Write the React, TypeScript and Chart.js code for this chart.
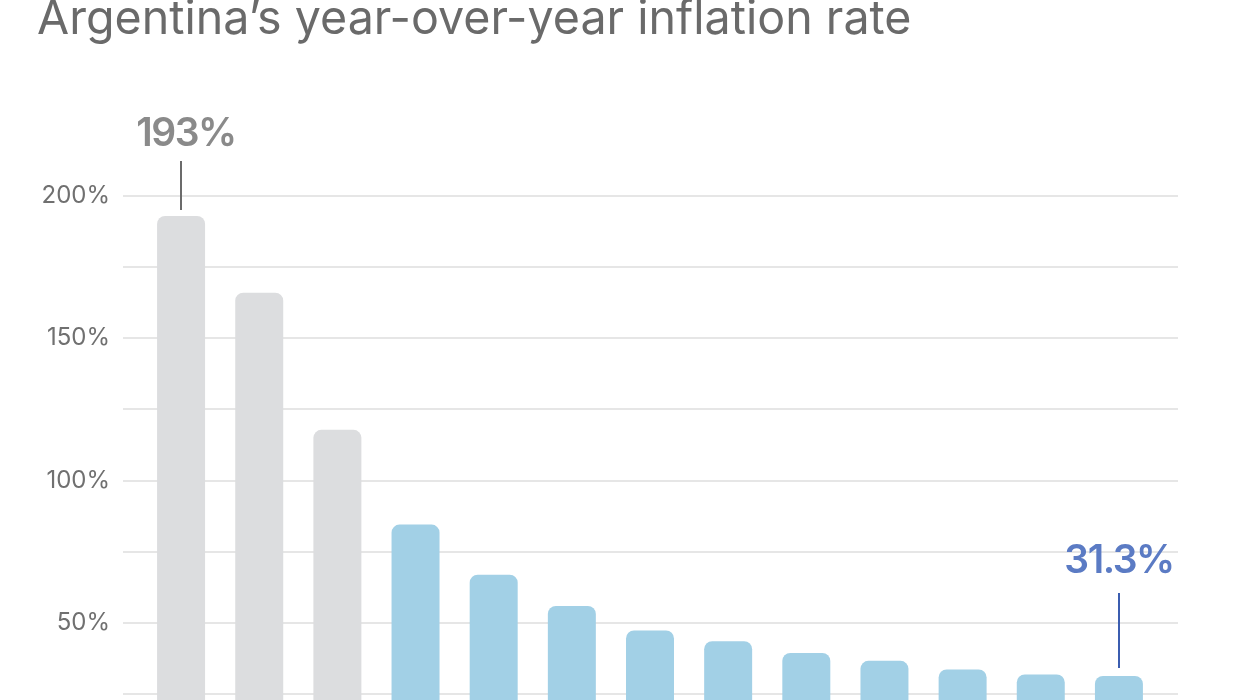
import React, { useEffect, useRef } from "react";
import { Chart, registerables } from "chart.js";

Chart.register(...registerables);

const months = [
  "Oct 2024", "Nov", "Dec", "Jan 2025", "Feb", "Mar", "Apr",
  "May", "Jun", "Jul", "Aug", "Sep", "Oct",
];
const inflation = [193, 166, 117.8, 84.5, 66.9, 55.9, 47.3, 43.5, 39.4, 36.6, 33.6, 31.8, 31.3];
const highlightedIdx = [0, 1, 2];
const yTicks = [0, 25, 50, 75, 100, 125, 150, 175, 200];
const titleText = "Argentina\u2019s year-over-year inflation rate";

const GRAY = "#dcdddf";
const BLUE = "#a2d0e6";
const FONT = "Inter, 'Noto Sans', sans-serif";

const annotations = [
  { idx: 0, text: "193%", color: "#8a8a8a", lineColor: "#6b6b6b", gap: 6, lineLen: 49, textGap: 15, dx: 5 },
  { idx: 12, text: "31.3%", color: "#5b7bc4", lineColor: "#3b5db0", gap: 8, lineLen: 75, textGap: 20, dx: 0 },
];

const overlayPlugin = {
  id: "overlay",
  beforeDatasetsDraw(chart: any) {
    const { ctx, scales } = chart;
    const y = scales.y;
    ctx.save();
    ctx.strokeStyle = "#e6e6e6";
    ctx.lineWidth = 2;
    yTicks.forEach((v) => {
      const py = Math.round(y.getPixelForValue(v));
      ctx.beginPath();
      ctx.moveTo(123, py);
      ctx.lineTo(1178, py);
      ctx.stroke();
    });
    ctx.restore();
  },
  afterDraw(chart: any) {
    const { ctx, scales } = chart;
    const x = scales.x;
    const y = scales.y;
    ctx.save();
    // title
    ctx.fillStyle = "#6a6a6a";
    ctx.font = `400 46.6px ${FONT}`;
    ctx.textAlign = "left";
    ctx.textBaseline = "alphabetic";
    ctx.fillText(titleText, 37, 34);
    // annotations
    annotations.forEach((a) => {
      const px = Math.round(x.getPixelForValue(a.idx));
      const top = y.getPixelForValue(inflation[a.idx]);
      const lineBottom = Math.round(top - a.gap);
      const lineTop = lineBottom - a.lineLen;
      ctx.strokeStyle = a.lineColor;
      ctx.lineWidth = 2;
      ctx.beginPath();
      ctx.moveTo(px, lineTop);
      ctx.lineTo(px, lineBottom);
      ctx.stroke();
      ctx.fillStyle = a.color;
      ctx.font = `600 39px ${FONT}`;
      (ctx as any).letterSpacing = "-1.5px";
      ctx.textAlign = "center";
      ctx.textBaseline = "alphabetic";
      ctx.fillText(a.text, px + a.dx, lineTop - a.textGap);
      (ctx as any).letterSpacing = "0px";
    });
    ctx.restore();
  },
};

export default function App() {
  const ref = useRef<HTMLCanvasElement | null>(null);
  useEffect(() => {
    document.body.style.margin = "0";
    const canvas = ref.current;
    if (!canvas) return;
    const chart = new Chart(canvas, {
      type: "bar",
      data: {
        labels: months,
        datasets: [
          {
            data: inflation,
            backgroundColor: inflation.map((_, i) => (highlightedIdx.includes(i) ? GRAY : BLUE)),
            borderRadius: 8,
            borderSkipped: "start",
            barPercentage: 0.614,
            categoryPercentage: 1,
          },
        ],
      },
      options: {
        responsive: false,
        animation: false,
        devicePixelRatio: 1,
        layout: { padding: { left: 0, right: 87, top: 196, bottom: 0 } },
        plugins: { legend: { display: false }, tooltip: { enabled: false }, title: { display: false } },
        scales: {
          x: {
            grid: { display: false },
            border: { display: false },
            ticks: { color: "#707070", font: { family: FONT, size: 20 } },
            afterFit: (s: any) => {
              s.height = 65;
            },
          },
          y: {
            min: 0,
            max: 200,
            grid: { display: false, drawTicks: false },
            border: { display: false },
            afterBuildTicks: (s: any) => {
              s.ticks = yTicks.map((v) => ({ value: v }));
            },
            ticks: {
              padding: 32,
              color: "#707070",
              font: { family: FONT, size: 24 },
              callback: (v: any) => (Number(v) % 50 === 0 && Number(v) > 0 ? `${v}%` : ""),
            },
            afterFit: (s: any) => {
              s.width = 142;
            },
          },
        },
      },
      plugins: [overlayPlugin],
    });
    return () => chart.destroy();
  }, []);
  return (
    <div style={{ width: 1245, height: 830 }}>
      <canvas ref={ref} width={1245} height={830} style={{ display: "block" }} />
    </div>
  );
}
